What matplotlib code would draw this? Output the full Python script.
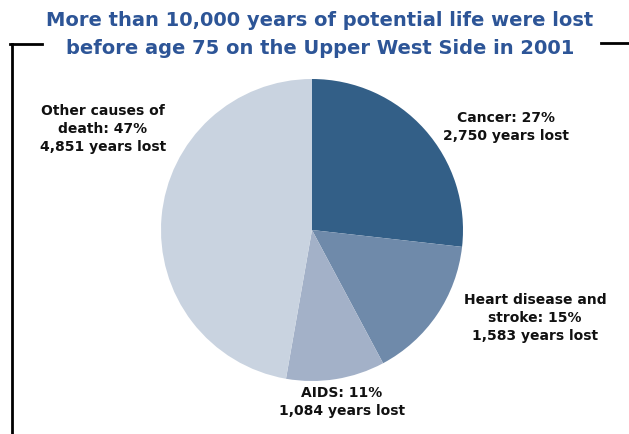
import matplotlib
matplotlib.use("Agg")
import matplotlib.pyplot as plt
from matplotlib.lines import Line2D

# data
causes = ["Cancer", "Heart disease and\nstroke", "AIDS", "Other causes of\ndeath"]
years_lost = [2750, 1583, 1084, 4851]
percents = [27, 15, 11, 47]
colors = ["#335f87", "#6f8aaa", "#a3b1c8", "#c9d3e0"]

W, H = 629, 434
fig = plt.figure(figsize=(W / 100, H / 100), dpi=100)
ax = fig.add_axes([0, 0, 1, 1])

ax.pie(years_lost, colors=colors, startangle=90, counterclock=False,
       center=(312, H - 230), radius=151, frame=True,
       wedgeprops=dict(linewidth=0))
ax.set_xlim(0, W)
ax.set_ylim(0, H)
ax.set_aspect("equal")
ax.axis("off")

# title
title_color = "#2d5597"
ax.text(320, H - 20, "More than 10,000 years of potential life were lost",
        ha="center", va="center", fontsize=14, fontweight="bold", color=title_color)
ax.text(320, H - 48, "before age 75 on the Upper West Side in 2001",
        ha="center", va="center", fontsize=14, fontweight="bold", color=title_color)

# frame lines
ax.add_line(Line2D([10, 42], [H - 44, H - 44], color="black", lw=2))
ax.add_line(Line2D([12, 12], [H - 44, 0], color="black", lw=2))
ax.add_line(Line2D([601, 629], [H - 43, H - 43], color="black", lw=2))

# labels
label_pos = [(506, 127), (535, 318), (342, 402), (103, 129)]
for name, pct, yrs, (x, y) in zip(causes, percents, years_lost, label_pos):
    txt = f"{name}: {pct}%\n{yrs:,} years lost"
    ax.text(x, H - y, txt, ha="center", va="center", fontsize=10,
            fontweight="bold", color="#111111", linespacing=1.4)

fig.savefig("out.png", dpi=100)
